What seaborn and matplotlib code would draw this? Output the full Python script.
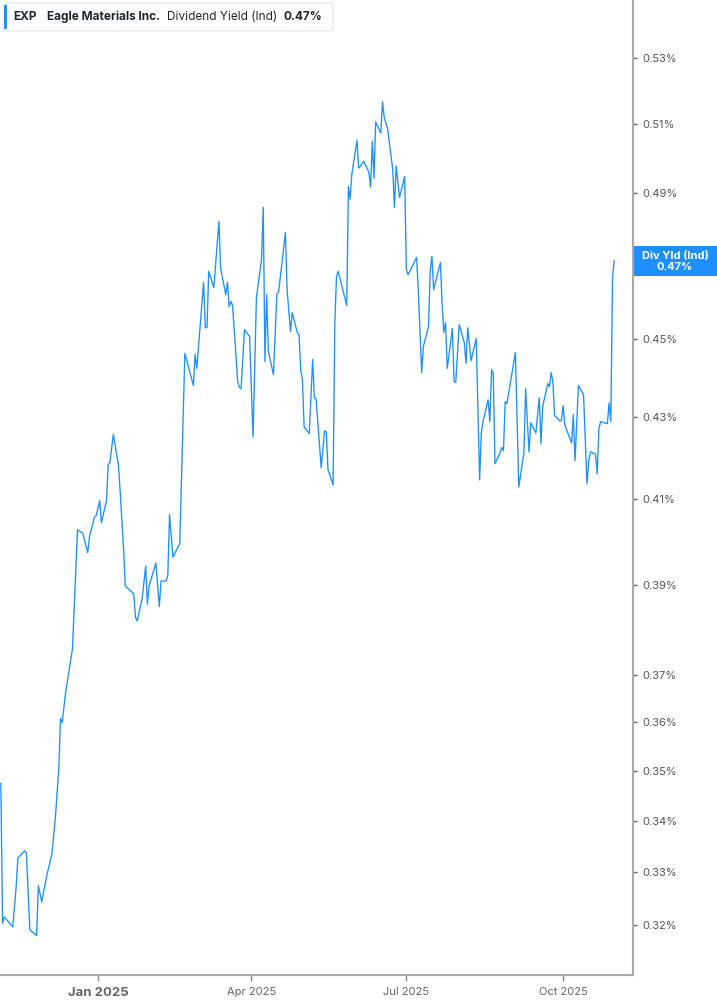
import matplotlib
matplotlib.use("Agg")
import matplotlib.pyplot as plt
import matplotlib.dates as mdates
from matplotlib.patches import FancyBboxPatch, Rectangle
from matplotlib.ticker import FixedLocator, FixedFormatter, NullLocator
import seaborn as sns
import pandas as pd

# dividend yield (%), one entry per visible vertex
dates = [
    "2024-11-05", "2024-11-06", "2024-11-07", "2024-11-12", "2024-11-13", "2024-11-14",
    "2024-11-15", "2024-11-19", "2024-11-20", "2024-11-22", "2024-11-26", "2024-11-27",
    "2024-11-29", "2024-12-02", "2024-12-05", "2024-12-07", "2024-12-09", "2024-12-10",
    "2024-12-11", "2024-12-13", "2024-12-17", "2024-12-20", "2024-12-23", "2024-12-26",
    "2024-12-27", "2024-12-30", "2024-12-31", "2025-01-02", "2025-01-03", "2025-01-06",
    "2025-01-07", "2025-01-08", "2025-01-10", "2025-01-13", "2025-01-14", "2025-01-16",
    "2025-01-17", "2025-01-22", "2025-01-23", "2025-01-24", "2025-01-27", "2025-01-29",
    "2025-01-30", "2025-01-31", "2025-02-04", "2025-02-06", "2025-02-07", "2025-02-10",
    "2025-02-11", "2025-02-12", "2025-02-14", "2025-02-18", "2025-02-21", "2025-02-26",
    "2025-02-27", "2025-02-28", "2025-03-04", "2025-03-05", "2025-03-06", "2025-03-07",
    "2025-03-10", "2025-03-13", "2025-03-14", "2025-03-17", "2025-03-18", "2025-03-19",
    "2025-03-20", "2025-03-21", "2025-03-24", "2025-03-25", "2025-03-26", "2025-03-28",
    "2025-03-31", "2025-04-02", "2025-04-04", "2025-04-07", "2025-04-08", "2025-04-09",
    "2025-04-10", "2025-04-11", "2025-04-14", "2025-04-16", "2025-04-17", "2025-04-21",
    "2025-04-22", "2025-04-24", "2025-04-25", "2025-04-28", "2025-04-29", "2025-04-30",
    "2025-05-01", "2025-05-02", "2025-05-05", "2025-05-07", "2025-05-08", "2025-05-09",
    "2025-05-12", "2025-05-14", "2025-05-15", "2025-05-16", "2025-05-19", "2025-05-20",
    "2025-05-21", "2025-05-22", "2025-05-27", "2025-05-28", "2025-05-29", "2025-05-30",
    "2025-06-02", "2025-06-03", "2025-06-04", "2025-06-06", "2025-06-09", "2025-06-10",
    "2025-06-11", "2025-06-12", "2025-06-13", "2025-06-16", "2025-06-17", "2025-06-18",
    "2025-06-20", "2025-06-23", "2025-06-24", "2025-06-25", "2025-06-27", "2025-06-30",
    "2025-07-01", "2025-07-02", "2025-07-07", "2025-07-08", "2025-07-10", "2025-07-11",
    "2025-07-14", "2025-07-15", "2025-07-16", "2025-07-17", "2025-07-21", "2025-07-22",
    "2025-07-23", "2025-07-24", "2025-07-25", "2025-07-28", "2025-07-29", "2025-07-30",
    "2025-08-01", "2025-08-04", "2025-08-05", "2025-08-06", "2025-08-08", "2025-08-11",
    "2025-08-13", "2025-08-14", "2025-08-15", "2025-08-18", "2025-08-19", "2025-08-20",
    "2025-08-21", "2025-08-22", "2025-08-25", "2025-08-26", "2025-08-27", "2025-08-28",
    "2025-08-29", "2025-09-03", "2025-09-05", "2025-09-08", "2025-09-09", "2025-09-11",
    "2025-09-12", "2025-09-15", "2025-09-17", "2025-09-18", "2025-09-19", "2025-09-22",
    "2025-09-23", "2025-09-24", "2025-09-25", "2025-09-26", "2025-09-29", "2025-09-30",
    "2025-10-01", "2025-10-02", "2025-10-06", "2025-10-07", "2025-10-08", "2025-10-10",
    "2025-10-13", "2025-10-15", "2025-10-16", "2025-10-17", "2025-10-20", "2025-10-21",
    "2025-10-22", "2025-10-23", "2025-10-27", "2025-10-28", "2025-10-29", "2025-10-30",
    "2025-10-31",
]
yield_pct = [
    0.3475, 0.3203, 0.3215, 0.3196, 0.3235, 0.3272,
    0.3327, 0.3341, 0.3337, 0.3191, 0.3180, 0.3274,
    0.3243, 0.3294, 0.3335, 0.3406, 0.3504, 0.3608,
    0.3600, 0.3663, 0.3757, 0.4027, 0.4020, 0.3974,
    0.4011, 0.4058, 0.4061, 0.4096, 0.4044, 0.4096,
    0.4183, 0.4188, 0.4257, 0.4183, 0.4120, 0.3985,
    0.3898, 0.3880, 0.3828, 0.3819, 0.3871, 0.3943,
    0.3857, 0.3898, 0.3950, 0.3851, 0.3909, 0.3909,
    0.3923, 0.4063, 0.3964, 0.3995, 0.4463, 0.4380,
    0.4460, 0.4424, 0.4651, 0.4530, 0.4530, 0.4681,
    0.4637, 0.4819, 0.4689, 0.4618, 0.4651, 0.4586,
    0.4600, 0.4589, 0.4390, 0.4375, 0.4372, 0.4525,
    0.4507, 0.4251, 0.4610, 0.4714, 0.4859, 0.4442,
    0.4618, 0.4468, 0.4408, 0.4621, 0.4624, 0.4788,
    0.4632, 0.4520, 0.4570, 0.4517, 0.4512, 0.4421,
    0.4395, 0.4276, 0.4259, 0.4447, 0.4349, 0.4347,
    0.4176, 0.4266, 0.4264, 0.4171, 0.4134, 0.4538,
    0.4667, 0.4681, 0.4589, 0.4919, 0.4882, 0.4953,
    0.5052, 0.4971, 0.4977, 0.4991, 0.4959, 0.4916,
    0.5049, 0.4942, 0.5106, 0.5073, 0.5166, 0.5121,
    0.5085, 0.4968, 0.4859, 0.4977, 0.4887, 0.4947,
    0.4686, 0.4672, 0.4719, 0.4632, 0.4413, 0.4481,
    0.4533, 0.4683, 0.4722, 0.4632, 0.4705, 0.4589,
    0.4517, 0.4544, 0.4424, 0.4528, 0.4390, 0.4388,
    0.4538, 0.4491, 0.4437, 0.4530, 0.4444, 0.4502,
    0.4146, 0.4261, 0.4289, 0.4344, 0.4289, 0.4421,
    0.4411, 0.4185, 0.4212, 0.4225, 0.4217, 0.4339,
    0.4334, 0.4465, 0.4129, 0.4212, 0.4372, 0.4214,
    0.4286, 0.4261, 0.4349, 0.4234, 0.4327, 0.4385,
    0.4377, 0.4413, 0.4390, 0.4304, 0.4291, 0.4291,
    0.4329, 0.4281, 0.4236, 0.4306, 0.4193, 0.4380,
    0.4357, 0.4137, 0.4190, 0.4214, 0.4209, 0.4161,
    0.4271, 0.4289, 0.4284, 0.4336, 0.4289, 0.4664,
    0.4711,
]

ytick_vals = [0.32, 0.33, 0.34, 0.35, 0.36, 0.37, 0.39, 0.41, 0.43, 0.45, 0.49, 0.51, 0.53]
xtick_dates = ["2025-01-01", "2025-04-01", "2025-07-01", "2025-10-01"]
xtick_labels = ["Jan 2025", "Apr 2025", "Jul 2025", "Oct 2025"]

ticker = "EXP"
company = "Eagle Materials Inc."
metric = "Dividend Yield (Ind)"
last_label = "0.47%"

df = pd.DataFrame({"date": pd.to_datetime(dates), "yield": yield_pct})

sns.set_style("white")
plt.rcParams["font.family"] = ["Inter", "DejaVu Sans"]

BLUE = "#1e8fff"
AXIS = "#aaaaaa"

fig = plt.figure(figsize=(7.17, 10.05), dpi=100)
ax = fig.add_axes([0.0, 0.0299, 0.8828, 0.9701])

sns.lineplot(data=df, x="date", y="yield", ax=ax, color=BLUE, linewidth=0.95)

ax.set_yscale("log")
ax.set_ylim(0.3108, 0.5482)
ax.set_xlim(pd.Timestamp("2024-11-04 12:00"), pd.Timestamp("2025-11-11"))

ax.yaxis.tick_right()
ax.yaxis.set_major_locator(FixedLocator(ytick_vals))
ax.yaxis.set_major_formatter(FixedFormatter([f"{v:.2f}%" for v in ytick_vals]))
ax.yaxis.set_minor_locator(NullLocator())
ax.tick_params(axis="y", which="major", right=True, left=False, length=3, width=1,
               color="#666666", labelsize=8, labelcolor="#555555", pad=4)

ax.xaxis.set_major_locator(FixedLocator(mdates.date2num(pd.to_datetime(xtick_dates))))
ax.xaxis.set_major_formatter(FixedFormatter(xtick_labels))
ax.tick_params(axis="x", which="major", bottom=True, length=4, width=1,
               color="#888888", labelsize=8, labelcolor="#666666", pad=5)
for lab in ax.get_xticklabels():
    if lab.get_text() == "Jan 2025":
        lab.set_fontsize(9.5)
        lab.set_fontweight("bold")
        lab.set_color("#666666")

ax.set_xlabel("")
ax.set_ylabel("")
ax.grid(False)
for side in ["top", "left"]:
    ax.spines[side].set_visible(False)
for side in ["right", "bottom"]:
    ax.spines[side].set_color(AXIS)
    ax.spines[side].set_linewidth(1.5)

# header box
W, H = 717, 1005
def fx(px):
    return px / W
def fy(py):
    return 1 - py / H

box = FancyBboxPatch((fx(4), fy(31)), fx(329), 28 / H,
                     boxstyle="round,pad=0,rounding_size=0.004",
                     transform=fig.transFigure, facecolor="white",
                     edgecolor="#e4e4e4", linewidth=0.8, zorder=5)
fig.patches.append(box)
fig.patches.append(Rectangle((fx(4), fy(29)), fx(3), 24 / H, transform=fig.transFigure,
                             facecolor=BLUE, edgecolor="none", zorder=6))
hdr_y = fy(17)
fig.text(fx(13), hdr_y, ticker, fontsize=8.5, fontweight="bold", color="#1f2430", va="center", zorder=7)
fig.text(fx(47), hdr_y, company, fontsize=8.5, fontweight="bold", color="#1f2430", va="center", zorder=7)
fig.text(fx(167), hdr_y, metric, fontsize=8.5, color="#1f2430", va="center", zorder=7)
fig.text(fx(284), hdr_y, last_label, fontsize=8.5, fontweight="bold", color="#1f2430", va="center", zorder=7)

# last value tag on the right axis
fig.patches.append(Rectangle((fx(634), fy(276)), fx(83), 30 / H, transform=fig.transFigure,
                             facecolor=BLUE, edgecolor="none", zorder=6))
fig.text(fx(675), fy(256), "Div Yld (Ind)", fontsize=8, fontweight="bold", color="white",
         ha="center", va="center", zorder=7)
fig.text(fx(675), fy(267), last_label, fontsize=8, fontweight="bold", color="white",
         ha="center", va="center", zorder=7)

fig.savefig("out.png", dpi=100)
plt.close(fig)
